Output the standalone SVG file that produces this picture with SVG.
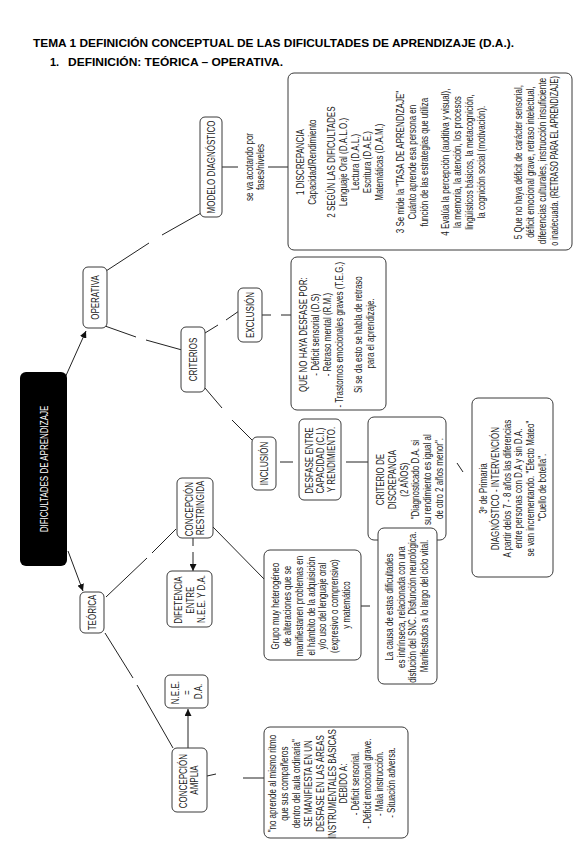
<svg xmlns="http://www.w3.org/2000/svg" width="582" height="848" viewBox="0 0 582 848">
<style>
.bg{fill:#fff}
.box{fill:#fff;stroke:#3a3a3a;stroke-width:1}
.t{font-family:"Liberation Sans",Arial,sans-serif;font-size:10px;fill:#1a1a1a;text-anchor:middle}
.w{fill:#fff}
.ttl{font-family:"Liberation Sans",Arial,sans-serif;font-weight:bold;font-size:11px;fill:#000}
.ln{stroke:#222;stroke-width:1;fill:none}
</style>
<defs>
<marker id="ah" viewBox="0 0 10 10" refX="10" refY="5" markerWidth="7" markerHeight="7" markerUnits="userSpaceOnUse" orient="auto">
<path d="M0,0 L10,5 L0,10 z" fill="#111"/>
</marker>
</defs>
<rect class="bg" x="0" y="0" width="582" height="848"/>
<g id="title">
<text class="ttl" x="33" y="47" textLength="481" lengthAdjust="spacingAndGlyphs">TEMA 1 DEFINICIÓN CONCEPTUAL DE LAS DIFICULTADES DE APRENDIZAJE (D.A.).</text>
<text class="ttl" x="50" y="66">1.</text>
<text class="ttl" x="68" y="66" textLength="215" lengthAdjust="spacingAndGlyphs">DEFINICIÓN: TEÓRICA – OPERATIVA.</text>
</g>
<g id="connectors">
<line class="ln" x1="64" y1="380" x2="86" y2="331" marker-end="url(#ah)"/>
<line class="ln" x1="68" y1="551" x2="83" y2="591" marker-end="url(#ah)"/>
<line class="ln" x1="106" y1="271" x2="149" y2="243"/>
<line class="ln" x1="162" y1="235" x2="201" y2="213"/>
<line class="ln" x1="222" y1="167" x2="238" y2="167"/>
<line class="ln" x1="268" y1="167" x2="288" y2="167"/>
<line class="ln" x1="105" y1="326" x2="136" y2="337"/>
<line class="ln" x1="146" y1="340" x2="182" y2="350"/>
<line class="ln" x1="205" y1="333" x2="218" y2="325"/>
<line class="ln" x1="226" y1="320" x2="239" y2="311"/>
<line class="ln" x1="262" y1="315" x2="271" y2="315"/>
<line class="ln" x1="281" y1="315" x2="291" y2="315"/>
<line class="ln" x1="205" y1="388" x2="222" y2="408"/>
<line class="ln" x1="232" y1="420" x2="252" y2="440"/>
<line class="ln" x1="280" y1="462" x2="293" y2="462"/>
<line class="ln" x1="346" y1="462" x2="368" y2="462"/>
<line class="ln" x1="457" y1="463" x2="463" y2="472"/>
<line class="ln" x1="106" y1="597" x2="147" y2="558"/>
<line class="ln" x1="152" y1="553" x2="176" y2="529"/>
<line class="ln" x1="105" y1="633" x2="133" y2="678"/>
<line class="ln" x1="137" y1="685" x2="173" y2="748"/>
<line class="ln" x1="193" y1="538" x2="193" y2="546"/>
<line class="ln" x1="193" y1="552" x2="193" y2="571" marker-end="url(#ah)"/>
<line class="ln" x1="213" y1="527" x2="265" y2="580"/>
<line class="ln" x1="361" y1="606" x2="370" y2="606"/>
<line class="ln" x1="188" y1="748" x2="188" y2="709" marker-end="url(#ah)"/>
<line class="ln" x1="207" y1="776" x2="216" y2="774"/>
<line class="ln" x1="243" y1="778" x2="265" y2="778"/>
</g>
<g id="n-dificultades">
<rect x="20" y="372" width="47" height="194" rx="6" fill="#000"/>
<text class="t w" transform="translate(44 469) rotate(-90) scale(0.8 1)"><tspan x="0" y="3.5">DIFICULTADES DE APRENDIZAJE</tspan></text>
</g>
<g id="n-operativa">
<rect class="box" x="83" y="267" width="24" height="61" rx="5"/>
<text class="t" transform="translate(95 297.5) rotate(-90) scale(0.8 1)"><tspan x="0" y="3.5">OPERATIVA</tspan></text>
</g>
<g id="n-teorica">
<rect class="box" x="80" y="592" width="24" height="41" rx="5"/>
<text class="t" transform="translate(92 612.5) rotate(-90) scale(0.8 1)"><tspan x="0" y="3.5">TEÓRICA</tspan></text>
</g>
<g id="n-modelo">
<rect class="box" x="200" y="117" width="22" height="100" rx="5"/>
<text class="t" transform="translate(211 167) rotate(-90) scale(0.8 1)"><tspan x="0" y="3.5">MODELO DIAGNÓSTICO</tspan></text>
</g>
<g id="l-acotando">
<text class="t" transform="translate(255 167) rotate(-90) scale(0.8 1)"><tspan x="0" y="-2.5">se va acotando por</tspan><tspan x="0" y="9.5">fases/niveles</tspan></text>
</g>
<g id="n-fases">
<rect class="box" x="288" y="73" width="284" height="177" rx="6"/>
<text class="t" transform="translate(430 161) rotate(-90) scale(0.8 1)">
<tspan x="0" y="-126.5">1 DISCREPANCIA</tspan>
<tspan x="0" y="-114.5">Capacidad/Rendimiento</tspan>
<tspan x="0" y="-95.5">2 SEGÚN LAS DIFICULTADES</tspan>
<tspan x="0" y="-83.5">Lenguaje Oral (D.A.L.O.)</tspan>
<tspan x="0" y="-71.5">Lectura (D.A.L.)</tspan>
<tspan x="0" y="-59.5">Escritura (D.A.E.)</tspan>
<tspan x="0" y="-47.5">Matemáticas (D.A.M.)</tspan>
<tspan x="0" y="-26.5">3 Se mide la "TASA DE APRENDIZAJE"</tspan>
<tspan x="0" y="-14.5">Cuánto aprende esa persona en</tspan>
<tspan x="0" y="-2.5">función de las estrategias que utiliza</tspan>
<tspan x="0" y="19.5">4 Evalúa la percepción (auditiva y visual),</tspan>
<tspan x="0" y="31.5">la memoria, la atención, los procesos</tspan>
<tspan x="0" y="43.5">lingüísticos básicos, la metacognición,</tspan>
<tspan x="0" y="55.5">la cognición social (motivación).</tspan>
<tspan x="0" y="92.5">5 Que no haya déficit de carácter sensorial,</tspan>
<tspan x="0" y="104.5">déficit emocional grave, retraso intelectual,</tspan>
<tspan x="-104" y="116.5" text-anchor="start" textLength="208" lengthAdjust="spacingAndGlyphs">diferencias culturales, instrucción insuficiente</tspan>
<tspan x="-106" y="128.5" text-anchor="start" textLength="212" lengthAdjust="spacingAndGlyphs">o inadecuada. (RETRASO PARA EL APRENDIZAJE)</tspan>
</text>
</g>
<g id="n-criterios">
<rect class="box" x="181" y="327" width="24" height="65" rx="5"/>
<text class="t" transform="translate(193 359.5) rotate(-90) scale(0.8 1)"><tspan x="0" y="3.5">CRITERIOS</tspan></text>
</g>
<g id="n-exclusion">
<rect class="box" x="238" y="288" width="24" height="54" rx="5"/>
<text class="t" transform="translate(250 315) rotate(-90) scale(0.8 1)"><tspan x="0" y="3.5">EXCLUSIÓN</tspan></text>
</g>
<g id="n-quenohaya">
<rect class="box" x="291" y="257" width="95" height="153" rx="6"/>
<text class="t" transform="translate(338.5 333.5) rotate(-90) scale(0.8 1)">
<tspan x="0" y="-32">QUE NO HAYA DESFASE POR:</tspan>
<tspan x="0" y="-20">- Déficit sensorial (D.S)</tspan>
<tspan x="0" y="-8">- Retraso mental (R.M.)</tspan>
<tspan x="0" y="4">- Trastornos emocionales graves (T.E.G.)</tspan>
<tspan x="0" y="24">Si se da esto se habla de retraso</tspan>
<tspan x="0" y="36">para el aprendizaje.</tspan>
</text>
</g>
<g id="n-inclusion">
<rect class="box" x="252" y="437" width="24" height="53" rx="5"/>
<text class="t" transform="translate(264 463.5) rotate(-90) scale(0.8 1)"><tspan x="0" y="3.5">INCLUSIÓN</tspan></text>
</g>
<g id="n-desfase">
<rect class="box" x="299" y="419" width="42" height="81" rx="5"/>
<text class="t" transform="translate(320 459.5) rotate(-90) scale(0.8 1)">
<tspan x="0" y="-7.5">DESFASE ENTRE</tspan>
<tspan x="0" y="4">CAPACIDAD (C.I.)</tspan>
<tspan x="0" y="15.5">Y RENDIMIENTO.</tspan>
</text>
</g>
<g id="n-criterio-disc">
<rect class="box" x="368" y="417" width="78" height="123" rx="6"/>
<text class="t" transform="translate(407 478.5) rotate(-90) scale(0.8 1)">
<tspan x="0" y="-23.5">CRITERIO DE</tspan>
<tspan x="0" y="-11.5">DISCREPANCIA</tspan>
<tspan x="0" y="0.5">(2 AÑOS)</tspan>
<tspan x="0" y="12.5">"Diagnosticado D.A. si</tspan>
<tspan x="0" y="24.5">su rendimiento es igual al</tspan>
<tspan x="0" y="36.5">de otro 2 años menor".</tspan>
</text>
</g>
<g id="n-primaria">
<rect class="box" x="472" y="398" width="81" height="179" rx="6"/>
<text class="t" transform="translate(512.5 487.5) rotate(-90) scale(0.8 1)">
<tspan x="0" y="-26">3º de Primaria</tspan>
<tspan x="0" y="-14">DIAGNÓSTICO - INTERVENCIÓN</tspan>
<tspan x="0" y="-2">A partir delos 7 - 8 años las diferencias</tspan>
<tspan x="0" y="10">entre personas con D.A y sin D.A.</tspan>
<tspan x="0" y="22">se van incrementando. "Efecto Mateo"</tspan>
<tspan x="0" y="34">"Cuello de botella".</tspan>
</text>
</g>
<g id="n-restringida">
<rect class="box" x="177" y="478" width="36" height="60" rx="5"/>
<text class="t" transform="translate(195 508) rotate(-90) scale(0.8 1)">
<tspan x="0" y="-2.5">CONCEPCIÓN</tspan>
<tspan x="0" y="9.5">RESTRINGIDA</tspan>
</text>
</g>
<g id="n-difetencia">
<rect class="box" x="167" y="571" width="45" height="56" rx="5"/>
<text class="t" transform="translate(189.5 599) rotate(-90) scale(0.8 1)">
<tspan x="0" y="-8">DIFETENCIA</tspan>
<tspan x="0" y="4">ENTRE</tspan>
<tspan x="0" y="16">N.E.E. Y D.A.</tspan>
</text>
</g>
<g id="n-grupo">
<rect class="box" x="264" y="550" width="97" height="110" rx="6"/>
<text class="t" transform="translate(312.5 605) rotate(-90) scale(0.8 1)">
<tspan x="0" y="-34">Grupo muy heterogéneo</tspan>
<tspan x="0" y="-22">de alteraciones que se</tspan>
<tspan x="0" y="-10">manifiestanen problemas en</tspan>
<tspan x="0" y="2">el hámbito de la adquisición</tspan>
<tspan x="0" y="14">y/o uso del lenguaje oral</tspan>
<tspan x="0" y="26">(expresivo o comprensivo)</tspan>
<tspan x="0" y="38">y matemático</tspan>
</text>
</g>
<g id="n-causa">
<rect class="box" x="378" y="528" width="59" height="156" rx="6"/>
<text class="t" transform="translate(407.5 606) rotate(-90) scale(0.8 1)">
<tspan x="0" y="-15">La causa de estas dificultades</tspan>
<tspan x="0" y="-3">es intrínseca, relacionada con una</tspan>
<tspan x="0" y="9">disfución del SNC. Disfunción neurológica.</tspan>
<tspan x="0" y="21">Manifestados a lo largo del ciclo vital.</tspan>
</text>
</g>
<g id="n-nee">
<rect class="box" x="165" y="675" width="43" height="33" rx="5"/>
<text class="t" transform="translate(186.5 691.5) rotate(-90) scale(0.8 1)">
<tspan x="0" y="-8">N.E.E.</tspan>
<tspan x="0" y="4">=</tspan>
<tspan x="0" y="16">D.A.</tspan>
</text>
</g>
<g id="n-amplia">
<rect class="box" x="172" y="748" width="35" height="64" rx="5"/>
<text class="t" transform="translate(189.5 780) rotate(-90) scale(0.8 1)">
<tspan x="0" y="-3">CONCEPCIÓN</tspan>
<tspan x="0" y="9">AMPLIA</tspan>
</text>
</g>
<g id="n-noaprende">
<rect class="box" x="264" y="727" width="144" height="111" rx="6"/>
<text class="t" transform="translate(336 782.5) rotate(-90) scale(0.8 1)">
<tspan x="0" y="-60.5">"no aprende al mismo ritmo</tspan>
<tspan x="0" y="-48.5">que sus compañeros</tspan>
<tspan x="0" y="-36.5">dentro del aula ordinaria"</tspan>
<tspan x="0" y="-24.5">SE MANIFIESTA EN UN</tspan>
<tspan x="0" y="-12.5">DESFASE EN LAS ÁREAS</tspan>
<tspan x="0" y="-0.5">INSTRUMENTALES BÁSICAS</tspan>
<tspan x="0" y="11.5">DEBIDO A:</tspan>
<tspan x="0" y="23.5">- Déficit sensorial.</tspan>
<tspan x="0" y="35.5">- Déficit emocional grave.</tspan>
<tspan x="0" y="47.5">- Mala instrucción.</tspan>
<tspan x="0" y="59.5">- Situación adversa.</tspan>
</text>
</g>
</svg>
